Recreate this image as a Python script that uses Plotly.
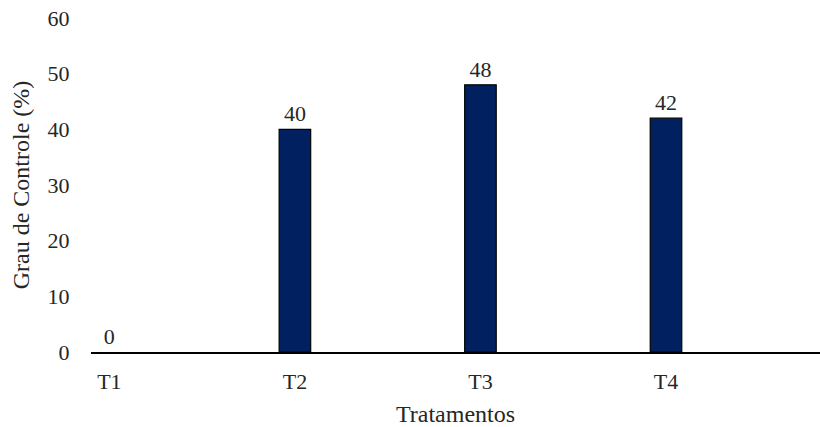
import plotly.graph_objects as go

categories = ["T1", "T2", "T3", "T4"]
values = [0, 40, 48, 42]
y_ticks = [0, 10, 20, 30, 40, 50, 60]

FONT = "Liberation Serif, Times New Roman, serif"
TXT = "#262626"

fig = go.Figure()
fig.add_trace(go.Bar(
    x=categories,
    y=values,
    width=0.17,
    marker=dict(color="#002060",
                line=dict(color="black", width=[0 if v == 0 else 1.2 for v in values])),
    text=[str(v) for v in values],
    textposition="outside",
    cliponaxis=False,
    textfont=dict(family=FONT, size=22, color=TXT),
))

fig.update_layout(
    width=820, height=427,
    margin=dict(l=91, r=0, t=17.5, b=75, autoexpand=False),
    paper_bgcolor="white", plot_bgcolor="white",
    showlegend=False,
    font=dict(family=FONT, size=22, color=TXT),
)
fig.update_xaxes(
    type="category",
    range=[-0.099, 3.83],
    automargin=False,
    showline=True, linecolor="black", linewidth=1.5,
    ticks="outside", ticklen=9, tickcolor="rgba(0,0,0,0)",
    showgrid=False,
    title=dict(text="Tratamentos", font=dict(family=FONT, size=24, color=TXT), standoff=12),
)
fig.update_yaxes(
    range=[0, 60],
    tickvals=y_ticks,
    automargin=False,
    ticklabeloverflow="allow",
    showline=False, showgrid=False, zeroline=False,
    ticks="outside", ticklen=16, tickcolor="rgba(0,0,0,0)",
    title=dict(text="Grau de Controle (%)", font=dict(family=FONT, size=24, color=TXT), standoff=11),
)

# remove the page's default body margin so the figure fills the window exactly
fig.write_html("out.html", config={"displayModeBar": False},
               post_script="document.body.style.margin='0';")
